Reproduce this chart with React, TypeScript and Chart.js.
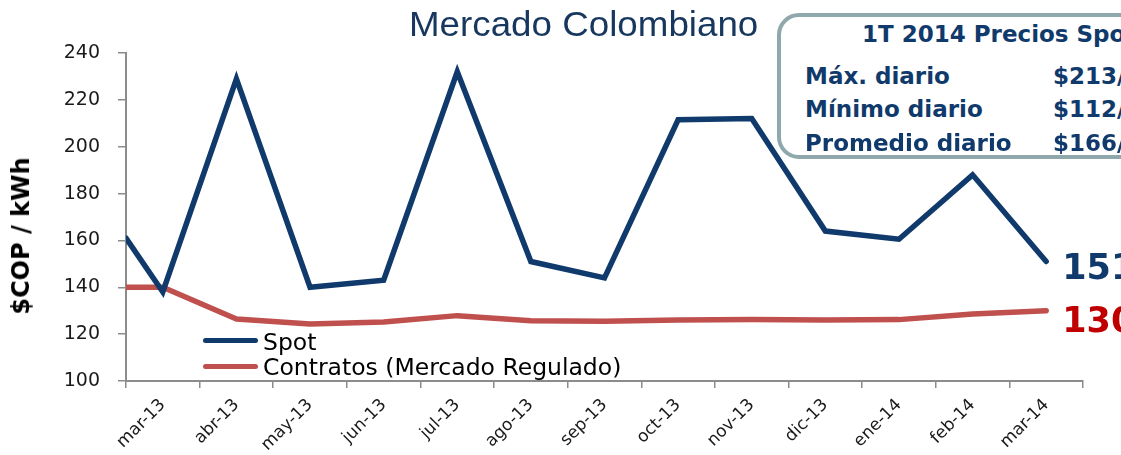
import React, { useEffect, useRef } from "react";
import { Chart, registerables } from "chart.js";

Chart.register(...registerables);

// ---------- data ----------
const categories = [
  "mar-13", "abr-13", "may-13", "jun-13", "jul-13", "ago-13", "sep-13",
  "oct-13", "nov-13", "dic-13", "ene-14", "feb-14", "mar-14",
];
// values at the left edge of the plot (half a month before mar-13)
const spotEdgeValue = 161;
const contratosEdgeValue = 140;
const spotValues = [138, 229, 140, 143, 232, 151, 144, 211.5, 212, 164, 160.5, 188, 151];
const contratosValues = [140, 126.5, 124.3, 125.2, 127.9, 125.7, 125.5, 126, 126.3, 126, 126.2, 128.6, 130];
const seriesNames = ["Spot", "Contratos (Mercado Regulado)"];
const yMin = 100;
const yMax = 240;
const yStep = 20;
const yTitle = "$COP / kWh";
const chartTitle = "Mercado Colombiano";
const boxTitle = "1T 2014 Precios Spot";
const boxLabels = ["Máx. diario", "Mínimo diario", "Promedio diario"];
const boxValues = ["$213/kWh", "$112/kWh", "$166/kWh"];

// ---------- styles ----------
const SPOT = "#103A6B";
const CONTR = "#C0504D";
const AXIS = "#8C8C8C";
const END_COLORS = [SPOT, "#C00000"];
const END_OFFSETS = [17, 21];
const W = 1121;
const H = 455;

const endLabels = {
  id: "endLabels",
  afterDatasetsDraw(chart: any) {
    const ctx = chart.ctx;
    chart.data.datasets.forEach((ds: any, i: number) => {
      const meta = chart.getDatasetMeta(i);
      const pt = meta.data[meta.data.length - 1];
      const val = ds.data[ds.data.length - 1].y;
      ctx.save();
      ctx.font = 'bold 35px "DejaVu Sans"';
      ctx.fillStyle = END_COLORS[i];
      ctx.textBaseline = "alphabetic";
      ctx.textAlign = "left";
      ctx.fillText(String(Math.round(val)), pt.x + 16, pt.y + END_OFFSETS[i]);
      ctx.restore();
    });
  },
};

export default function App() {
  const ref = useRef<HTMLCanvasElement | null>(null);

  useEffect(() => {
    if (!ref.current) return;
    const spotPts = [{ x: -0.5, y: spotEdgeValue }, ...spotValues.map((v, i) => ({ x: i, y: v }))];
    const contrPts = [{ x: -0.5, y: contratosEdgeValue }, ...contratosValues.map((v, i) => ({ x: i, y: v }))];
    const chart = new Chart(ref.current, {
      type: "line",
      data: {
        datasets: [
          {
            label: seriesNames[0],
            data: spotPts,
            borderColor: SPOT,
            backgroundColor: SPOT,
            borderWidth: 5.5,
            pointRadius: 0,
            tension: 0,
            borderCapStyle: "round",
            borderJoinStyle: "miter",
          },
          {
            label: seriesNames[1],
            data: contrPts,
            borderColor: CONTR,
            backgroundColor: CONTR,
            borderWidth: 5.5,
            pointRadius: 0,
            tension: 0,
            borderCapStyle: "round",
            borderJoinStyle: "round",
          },
        ],
      },
      options: {
        animation: false,
        responsive: false,
        devicePixelRatio: 1,
        layout: { padding: { top: 53, right: 38, left: 0, bottom: 0 } },
        plugins: {
          legend: { display: false },
          tooltip: { enabled: false },
          title: { display: false },
        },
        scales: {
          x: {
            type: "linear",
            min: -0.5,
            max: categories.length - 0.5,
            afterBuildTicks: (s: any) => {
              const t: any[] = [];
              for (let v = -0.5; v <= categories.length - 0.5; v += 0.5) t.push({ value: v });
              s.ticks = t;
            },
            afterFit: (s: any) => {
              s.height = 74;
            },
            ticks: {
              autoSkip: false,
              maxRotation: 45,
              minRotation: 45,
              padding: 7,
              color: "#1a1a1a",
              font: { family: "DejaVu Sans", size: 17 },
              callback: (v: any) => (Number.isInteger(v) ? categories[v] : ""),
            },
            grid: {
              drawOnChartArea: false,
              drawTicks: true,
              tickLength: 7,
              lineWidth: 1.5,
              color: (c: any) =>
                c.tick && !Number.isInteger(c.tick.value) ? AXIS : "rgba(0,0,0,0)",
            },
            border: { display: true, color: AXIS, width: 2 },
          },
          y: {
            min: yMin,
            max: yMax,
            afterFit: (s: any) => {
              s.width = 126;
            },
            ticks: {
              stepSize: yStep,
              padding: 18,
              color: "#1a1a1a",
              font: { family: "DejaVu Sans", size: 19 },
            },
            grid: {
              drawOnChartArea: false,
              drawTicks: true,
              tickLength: 8,
              lineWidth: 1.5,
              color: AXIS,
            },
            border: { display: true, color: AXIS, width: 2 },
          },
        },
      },
      plugins: [endLabels],
    } as any);
    return () => chart.destroy();
  }, []);

  const boxFont: React.CSSProperties = {
    position: "absolute",
    fontFamily: '"DejaVu Sans"',
    fontWeight: "bold",
    fontSize: 23,
    lineHeight: "23px",
    color: SPOT,
    whiteSpace: "nowrap",
  };
  const rowBaselines = [84, 117, 151];

  return (
    <div
      style={{
        position: "fixed",
        left: 0,
        top: 0,
        width: W,
        height: H,
        overflow: "hidden",
        background: "#fff",
      }}
    >
      <canvas ref={ref} width={W} height={H} style={{ position: "absolute", left: 0, top: 0, width: W, height: H }} />
      {/* title */}
      <div
        style={{
          position: "absolute",
          left: 409,
          top: 6,
          fontFamily: '"Liberation Sans", Arial, sans-serif',
          fontSize: 35,
          lineHeight: "35px",
          color: "#17375E",
          whiteSpace: "nowrap",
          transform: "scaleX(1.05)",
          transformOrigin: "left top",
        }}
      >
        {chartTitle}
      </div>
      {/* y axis title */}
      <div
        style={{
          position: "absolute",
          left: 21,
          top: 236,
          transform: "translate(-50%, -50%) rotate(-90deg)",
          fontFamily: '"DejaVu Sans"',
          fontWeight: "bold",
          fontSize: 24,
          lineHeight: "24px",
          color: "#000",
          whiteSpace: "nowrap",
        }}
      >
        {yTitle}
      </div>
      {/* legend */}
      {seriesNames.map((n, i) => (
        <React.Fragment key={n}>
          <div
            style={{
              position: "absolute",
              left: 203,
              top: 337.5 + i * 26.5,
              width: 55,
              height: 5,
              borderRadius: 3,
              background: i === 0 ? SPOT : CONTR,
            }}
          />
          <div
            style={{
              position: "absolute",
              left: 263,
              top: 330.5 + i * 25,
              fontFamily: '"DejaVu Sans"',
              fontSize: 23.5,
              lineHeight: "23px",
              color: "#000",
              whiteSpace: "nowrap",
            }}
          >
            {n}
          </div>
        </React.Fragment>
      ))}
      {/* info box */}
      <div
        style={{
          position: "absolute",
          left: 777,
          top: 13,
          width: 420,
          height: 146,
          boxSizing: "border-box",
          border: "4px solid #8FA8AB",
          borderRadius: 22,
          background: "#fff",
        }}
      />
      <div style={{ ...boxFont, left: 862, top: 42 - 19.5 }}>{boxTitle}</div>
      {boxLabels.map((l, i) => (
        <React.Fragment key={l}>
          <div style={{ ...boxFont, left: 805, top: rowBaselines[i] - 19.5 }}>{l}</div>
          <div style={{ ...boxFont, left: 1053, top: rowBaselines[i] - 19.5 }}>{boxValues[i]}</div>
        </React.Fragment>
      ))}
    </div>
  );
}
